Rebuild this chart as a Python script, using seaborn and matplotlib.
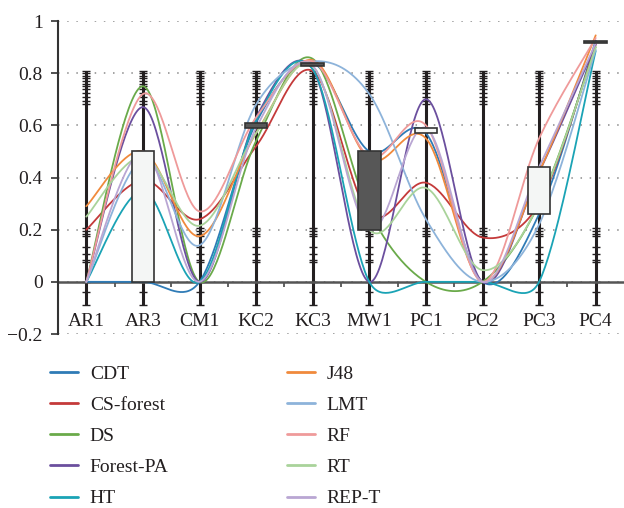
import numpy as np
import pandas as pd
import matplotlib
matplotlib.use("Agg")
import matplotlib.pyplot as plt
from matplotlib.lines import Line2D
import seaborn as sns

categories = ["AR1", "AR3", "CM1", "KC2", "KC3", "MW1", "PC1", "PC2", "PC3", "PC4"]

cdt       = [0.00, 0.00, 0.00, 0.61, 0.838, 0.50, 0.570, 0.00, 0.26, 0.925]
cs_forest = [0.20, 0.39, 0.24, 0.52, 0.808, 0.26, 0.380, 0.17, 0.30, 0.910]
ds        = [0.00, 0.75, 0.00, 0.54, 0.855, 0.27, 0.000, 0.00, 0.30, 0.900]
forest_pa = [0.00, 0.67, 0.00, 0.63, 0.815, 0.00, 0.700, 0.00, 0.42, 0.910]
ht        = [0.00, 0.35, 0.00, 0.62, 0.815, 0.00, 0.000, 0.00, 0.00, 0.885]
j48       = [0.29, 0.50, 0.175, 0.57, 0.850, 0.47, 0.550, 0.00, 0.42, 0.945]
lmt       = [0.00, 0.47, 0.14, 0.68, 0.845, 0.72, 0.240, 0.00, 0.22, 0.890]
rf        = [0.00, 0.72, 0.27, 0.63, 0.845, 0.48, 0.600, 0.00, 0.55, 0.935]
rt        = [0.25, 0.48, 0.215, 0.57, 0.825, 0.20, 0.360, 0.045, 0.30, 0.900]
rep_t     = [0.00, 0.50, 0.00, 0.59, 0.828, 0.20, 0.590, 0.00, 0.44, 0.915]

series_names = ["CDT", "CS-forest", "DS", "Forest-PA", "HT",
                "J48", "LMT", "RF", "RT", "REP-T"]
series_values = [cdt, cs_forest, ds, forest_pa, ht, j48, lmt, rf, rt, rep_t]
series_colors = ["#2f7bb6", "#c43a3a", "#6aaa4a", "#6b4f9e", "#1aa3b5",
                 "#f08a3c", "#8db3da", "#ef9a9a", "#a9d39a", "#b9a6d3"]

# cap levels of the vertical bars drawn at every category
cap_levels = [0.81, 0.80, 0.79, 0.78, 0.77, 0.76, 0.75, 0.74, 0.725, 0.71,
              0.695, 0.68, 0.205, 0.195, 0.185, 0.175, 0.135, 0.105, 0.085,
              0.075, 0.0, -0.04, -0.09]
yticks = [-0.2, 0.0, 0.2, 0.4, 0.6, 0.8, 1.0]
ytick_labels = ["\u22120.2", "0", "0.2", "0.4", "0.6", "0.8", "1"]

SX, SY = 56.6, 261.5  # screen scale used for the smoothing distances


def smooth(xs, ys, n=40):
    P = np.column_stack([xs, ys]).astype(float)
    ext = np.vstack([P[0], P, P[-1]])
    S = np.array([SX, SY])
    dist = lambda a, b: float(np.hypot(*((a - b) * S)))
    out = []
    t = np.linspace(0, 1, n)[:, None]
    f = 1.0 / 6.0
    for i in range(len(P) - 1):
        p0, p1, p2, p3 = ext[i], ext[i + 1], ext[i + 2], ext[i + 3]
        d02, d12, d13 = dist(p0, p2), dist(p1, p2), dist(p1, p3)
        f0 = f if d02 * f < d12 / 2 else (d12 / 2 / d02 if d02 > 0 else 0)
        f3 = f if d13 * f < d12 / 2 else (d12 / 2 / d13 if d13 > 0 else 0)
        c1 = p1 + (p2 - p0) * f0
        c2 = p2 - (p3 - p1) * f3
        seg = ((1 - t) ** 3) * p1 + 3 * ((1 - t) ** 2) * t * c1 + 3 * (1 - t) * t ** 2 * c2 + t ** 3 * p2
        out.append(seg if i == 0 else seg[1:])
    return np.vstack(out)


sns.set_theme(style="white")
plt.rcParams["font.family"] = ["Liberation Serif", "DejaVu Serif"]
TXT = "#231f20"

fig = plt.figure(figsize=(6.24, 5.08), dpi=100)
ax = fig.add_axes([58 / 624, 1 - 334 / 508, (624 - 58) / 624, (334 - 21) / 508])

x = np.arange(len(categories))

# dotted grid
for yv in yticks:
    ax.axhline(yv, color="#8a8a8a", lw=1.1, ls=(0, (1, 5)), zorder=0)

# vertical bars with caps
ax.vlines(x, min(cap_levels), max(cap_levels), color=TXT, lw=2.2, zorder=1)
cx = np.repeat(x, len(cap_levels))
cy = np.tile(cap_levels, len(x))
ax.plot(cx, cy, ls="none", marker="_", ms=6, mew=1.0, color=TXT, zorder=1)

# zero line and category ticks
ax.axhline(0, color="#555555", lw=1.8, zorder=1.5)
ax.vlines(x[:-1] + 0.5, -0.018, 0, color="#555555", lw=1.3, zorder=1.5)

# smoothed lines
rows = []
for name, vals in zip(series_names, series_values):
    pts = smooth(x, vals)
    rows.append(pd.DataFrame({"x": pts[:, 0], "y": pts[:, 1], "series": name}))
df = pd.concat(rows, ignore_index=True)
sns.lineplot(data=df, x="x", y="y", hue="series", hue_order=series_names,
             palette=dict(zip(series_names, series_colors)), sort=False,
             estimator=None, legend=False, lw=1.3, ax=ax, zorder=2)

# up-down bars between first and last series
first = np.array(cdt)
last = np.array(rep_t)
diff = last - first
mask = np.abs(diff) > 1e-9
bottoms = np.minimum(first, last)
colors = ["#f4f6f5" if d > 0 else "#575757" for d in diff]
ax.bar(x[mask], np.abs(diff)[mask], bottom=bottoms[mask], width=0.4,
       color=np.array(colors)[mask], edgecolor="#333333", linewidth=1.2, zorder=3)

# category labels
for xi, c in zip(x, categories):
    ax.text(xi, -0.152, c, ha="center", va="center", fontsize=14, color=TXT)

ax.set_xlim(-0.5, 9.5)
ax.set_ylim(-0.2, 1.0)
ax.set_yticks(yticks)
ax.set_yticklabels(ytick_labels, fontsize=14, color=TXT)
ax.set_xticks([])
ax.set_xlabel("")
ax.set_ylabel("")
for s in ["top", "right", "bottom"]:
    ax.spines[s].set_visible(False)
ax.spines["left"].set_color("#333333")
ax.spines["left"].set_linewidth(1.5)
ax.tick_params(axis="y", left=True, length=5, width=1.2, color="#333333", pad=6)

handles = [Line2D([0], [0], color=c, lw=2) for c in series_colors]
leg_kw = dict(frameon=False, fontsize=14, loc="upper left", borderpad=0,
              borderaxespad=0, handlelength=1.45, handletextpad=0.6,
              labelspacing=0.70, labelcolor=TXT)
fig.legend(handles[:5], series_names[:5], bbox_to_anchor=(50 / 624, 1 - 365 / 508), **leg_kw)
fig.legend(handles[5:], series_names[5:], bbox_to_anchor=(287 / 624, 1 - 365 / 508), **leg_kw)

fig.savefig("out.png", dpi=100, facecolor="white")
